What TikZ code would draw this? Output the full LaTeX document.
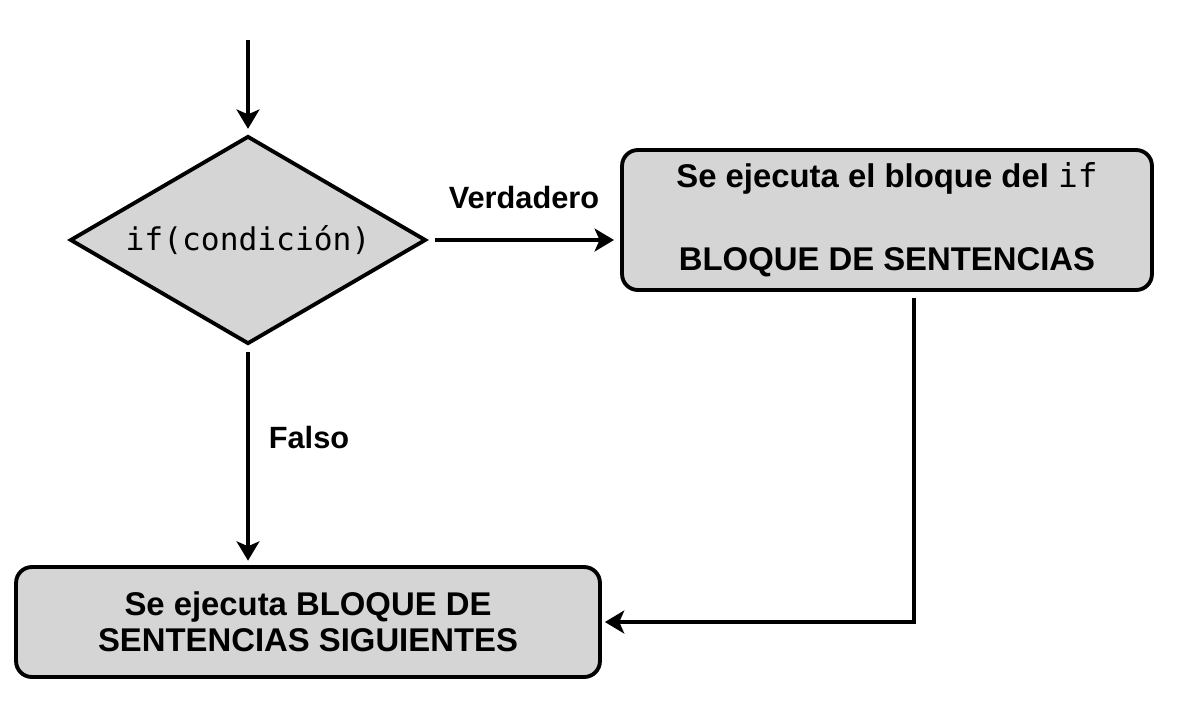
\documentclass[tikz,border=0pt]{standalone}
\usepackage{fontspec}
\setmainfont{Liberation Sans}
\setmonofont{DejaVu Sans Mono}
\usetikzlibrary{shapes.geometric,arrows.meta}
\definecolor{boxfill}{RGB}{213,213,213}
\begin{document}
\begin{tikzpicture}[x=0.02cm,y=-0.02cm, line width=2.2pt,
  flow/.style={draw=black, fill=boxfill, rounded corners=9pt, align=center,
    font=\bfseries\fontsize{18.7}{22}\selectfont},
  decision/.style={diamond, aspect=1.71, draw=black, fill=boxfill, inner sep=0pt,
    minimum width=7.12cm, minimum height=4.16cm,
    font=\ttfamily\fontsize{17.8}{20}\selectfont},
  arrowline/.style={-{Stealth[length=11pt,width=13pt,inset=2.8pt]}},
  lbl/.style={font=\bfseries\fontsize{17.5}{20}\selectfont}]
\useasboundingbox (0,0) rectangle (1200,708);

\node[decision] (dec) at (248,240) {if(condición)};
\node[flow, minimum width=10.6cm, minimum height=2.8cm] (b1) at (887,220)
  {Se ejecuta el bloque del {\mdseries\ttfamily if}\\[25pt]BLOQUE DE SENTENCIAS};
\node[flow, minimum width=11.68cm, minimum height=2.2cm,
  font=\bfseries\fontsize{18.7}{20.4}\selectfont] (b2) at (308,622)
  {Se ejecuta BLOQUE DE\\SENTENCIAS SIGUIENTES};

\coordinate (start) at (248,40);
\coordinate (corner) at (914,622);

\draw[arrowline, shorten >=3pt] (start) -- (dec.north);
\draw[arrowline, shorten <=4pt, shorten >=3.5pt] (dec.east) --
  node[lbl, midway, yshift=0.86cm] {Verdadero} (b1.west |- dec.east);
\draw[arrowline, shorten <=3.4pt, shorten >=2.5pt] (dec.south) --
  node[lbl, midway, xshift=1.22cm, yshift=0.36cm] {Falso} (b2.north -| dec.south);
\draw[arrowline, shorten <=3.4pt, shorten >=1.7pt] (b1.south -| corner) -- (corner) -- (b2.east);
\end{tikzpicture}
\end{document}
